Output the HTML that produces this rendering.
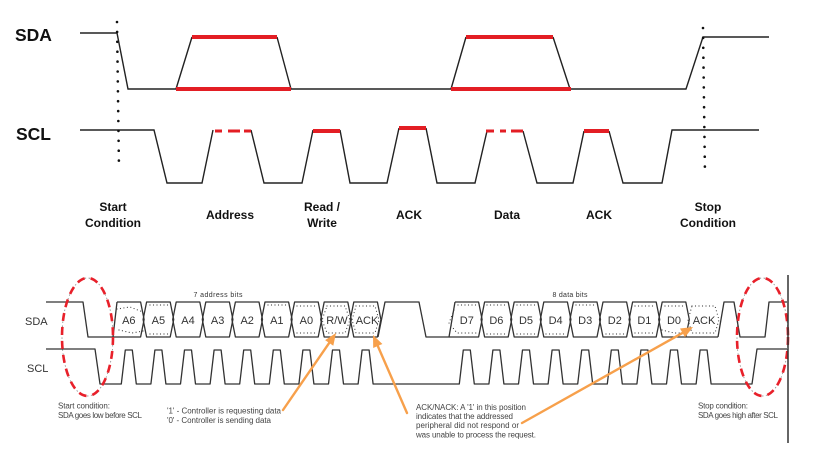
<!DOCTYPE html>
<html><head><meta charset="utf-8"><style>
html,body{margin:0;padding:0;background:#fff;}
svg{display:block;}
</style></head><body>
<svg width="822" height="459" viewBox="0 0 822 459" xmlns="http://www.w3.org/2000/svg" font-family="Liberation Sans, Arial, sans-serif">
<rect width="822" height="459" fill="#fff"/>

<!-- ===== TOP DIAGRAM ===== -->
<text x="15" y="41" font-size="17.5" font-weight="bold" fill="#111">SDA</text>
<text x="16" y="140" font-size="17.5" font-weight="bold" fill="#111">SCL</text>

<g fill="none" stroke="#222" stroke-width="1.4">
<path d="M80,33 H117 L128,89 H686 L703,37 H769"/>
<path d="M176,89 L192,37 M277,37 L291,89 M451,89 L466,37 M553,37 L570,89"/>
<path d="M80,130 H154 L167,183 H202 L213,130 M251,130 L264,183 H302 L313,130 M340,130 L350,183 H387 L399,128 M426,128 L437,183 H475 L487,131 M523,131 L537,183 H573 L584,131 M609,131 L623,183 H662 L672,130 H759"/>
</g>
<g stroke="#e31e24" fill="none">
<path d="M192,37 H277 M176,89 H291 M466,37 H553 M451,89 H571" stroke-width="4"/>
<path d="M215,131 H222 M228,131 H240 M244,131 H251 M486,131 H494 M500,131 H506 M511,131 H523" stroke-width="3"/>
<path d="M313,131 H340 M399,128 H426 M584,131 H609" stroke-width="4"/>
</g>
<g stroke="#111" stroke-width="2.6" stroke-linecap="round" stroke-dasharray="0 9.9" fill="none">
<path d="M117,22 L119,170"/>
<path d="M703,28 L705,176"/>
</g>
<g font-size="12" font-weight="bold" fill="#111" text-anchor="middle">
<text x="113" y="211">Start</text>
<text x="113" y="227">Condition</text>
<text x="230" y="219">Address</text>
<text x="322" y="211">Read /</text>
<text x="322" y="227">Write</text>
<text x="409" y="219">ACK</text>
<text x="507" y="219">Data</text>
<text x="599" y="219">ACK</text>
<text x="708" y="211">Stop</text>
<text x="708" y="227">Condition</text>
</g>

<!-- ===== BOTTOM DIAGRAM ===== -->
<text x="25" y="325" font-size="11" fill="#333">SDA</text>
<text x="27" y="372" font-size="11" fill="#333">SCL</text>
<text x="218" y="297" font-size="7" fill="#333" text-anchor="middle" textLength="49">7 address bits</text>
<text x="570" y="297" font-size="7" fill="#333" text-anchor="middle" textLength="35">8 data bits</text>

<!-- gray dotted ellipses underneath -->
<g fill="none" stroke="#888" stroke-width="0.8" stroke-dasharray="1.5 2.5">
<ellipse cx="87.5" cy="337" rx="25.5" ry="59"/>
<ellipse cx="762.5" cy="337" rx="25.5" ry="59"/>
</g>

<g fill="none" stroke="#333" stroke-width="1.3" stroke-linejoin="round">
<path d="M46,302 H83 L88,337 H113 L117,302"/>
<path d="M117,302 H140.6 L144.1,319.5 L140.6,337 H113"/>
<path d="M146.6,302 H170.2 L173.7,319.5 L170.2,337 H146.6 L143.1,319.5 Z"/>
<path d="M176.2,302 H199.8 L203.3,319.5 L199.8,337 H176.2 L172.7,319.5 Z"/>
<path d="M205.8,302 H229.4 L232.9,319.5 L229.4,337 H205.8 L202.3,319.5 Z"/>
<path d="M235.4,302 H259 L262.5,319.5 L259,337 H235.4 L231.9,319.5 Z"/>
<path d="M265,302 H288.6 L292.1,319.5 L288.6,337 H265 L261.5,319.5 Z"/>
<path d="M294.6,302 H318.2 L321.7,319.5 L318.2,337 H294.6 L291.1,319.5 Z"/>
<path d="M324.2,302 H347.8 L351.3,319.5 L347.8,337 H324.2 L320.7,319.5 Z"/>
<path d="M353.8,302 H377.4 L380.9,319.5 L377.4,337 H353.8 L350.3,319.5 Z"/>
<path d="M378,337 L385,302 H419 L426,337 H449 L455,302"/>
<path d="M455,302 H478.6 L482.1,319.5 L478.6,337 H449"/>
<path d="M484.6,302 H508.2 L511.7,319.5 L508.2,337 H484.6 L481.1,319.5 Z"/>
<path d="M514.2,302 H537.8 L541.3,319.5 L537.8,337 H514.2 L510.7,319.5 Z"/>
<path d="M543.8,302 H567.4 L570.9,319.5 L567.4,337 H543.8 L540.3,319.5 Z"/>
<path d="M573.4,302 H597 L600.5,319.5 L597,337 H573.4 L569.9,319.5 Z"/>
<path d="M603,302 H626.6 L630.1,319.5 L626.6,337 H603 L599.5,319.5 Z"/>
<path d="M632.6,302 H656.2 L659.7,319.5 L656.2,337 H632.6 L629.1,319.5 Z"/>
<path d="M662.2,302 H685.8 L689.3,319.5 L685.8,337 H662.2 L658.7,319.5 Z"/>
<path d="M685.8,337 H718"/>
<path d="M718,337 L724,302 H734 L740,337 H765 L769,302 H787"/>
<path d="M46,349 H95 L100,384 H121.3 L125.3,350 H132.3 L136.3,384 H150.9 L154.9,350 H161.9 L165.9,384 H180.5 L184.5,350 H191.5 L195.5,384 H210.1 L214.1,350 H221.1 L225.1,384 H239.7 L243.7,350 H250.7 L254.7,384 H269.3 L273.3,350 H280.3 L284.3,384 H298.9 L302.9,350 H309.9 L313.9,384 H328.5 L332.5,350 H339.5 L343.5,384 H358.1 L362.1,350 H369.1 L373.1,384 H459.3 L463.3,350 H470.3 L474.3,384 H488.9 L492.9,350 H499.9 L503.9,384 H518.5 L522.5,350 H529.5 L533.5,384 H548.1 L552.1,350 H559.1 L563.1,384 H577.7 L581.7,350 H588.7 L592.7,384 H607.3 L611.3,350 H618.3 L622.3,384 H636.9 L640.9,350 H647.9 L651.9,384 H666.5 L670.5,350 H677.5 L681.5,384 H696.1 L700.1,350 H707.1 L711.1,384 H752 L757,349 H787"/>
</g>
<g fill="none" stroke="#444" stroke-width="1.2" stroke-linecap="round" stroke-dasharray="0 3.5">
<path d="M117,309 L130,307 L143,312 M119,330 L132,333 L143,331"/>
<path d="M150,305 H168 M150,334 H168"/>
<path d="M268,305 H288"/>
<path d="M297,306 H316 M297,333 H316"/>
<path d="M327,306 H345 L350,320 L345,333 H327 L322,320 Z"/>
<path d="M356,306 H375 L379,320 L375,333 H356 L352,320 Z"/>
<path d="M454,310 L449,323 L457,333 H476 M458,305 H476"/>
<path d="M487,305 H506 M487,334 H506"/>
<path d="M517,305 H535 M517,334 H535"/>
<path d="M546,334 H565"/>
<path d="M576,305 H595"/>
<path d="M606,334 H624"/>
<path d="M635,306 H654 M635,333 H654"/>
<path d="M665,306 H683 M662,330 L674,333 H688"/>
<path d="M692,306 H715 L719,320 L715,333 H692 L688,320 Z"/>
</g>
<g font-size="11" fill="#333" text-anchor="middle">
<text x="128.8" y="324">A6</text>
<text x="158.4" y="324">A5</text>
<text x="188" y="324">A4</text>
<text x="217.6" y="324">A3</text>
<text x="247.2" y="324">A2</text>
<text x="276.8" y="324">A1</text>
<text x="306.4" y="324">A0</text>
<text x="337" y="324">R/W</text>
<text x="367" y="324">ACK</text>
<text x="466.8" y="324">D7</text>
<text x="496.4" y="324">D6</text>
<text x="526" y="324">D5</text>
<text x="555.6" y="324">D4</text>
<text x="585.2" y="324">D3</text>
<text x="614.8" y="324">D2</text>
<text x="644.4" y="324">D1</text>
<text x="674" y="324">D0</text>
<text x="704" y="324">ACK</text>
</g>

<g fill="none" stroke="#e8202a" stroke-width="2.6" stroke-dasharray="8 6">
<ellipse cx="87.5" cy="337" rx="25.5" ry="59"/>
<ellipse cx="762.5" cy="337" rx="25.5" ry="59"/>
</g>

<line x1="788" y1="275" x2="788" y2="443" stroke="#333" stroke-width="1.5"/>

<g stroke="#f7a04b" stroke-width="2.4" fill="none" stroke-linecap="round">
<path d="M283,410 L329.2,342.9"/>
<path d="M407,413 L377.8,346"/>
<path d="M522,423 L682.5,332.9"/>
</g>
<g fill="#f7a04b">
<polygon points="336,333 333.3,345.7 325.1,340.1"/>
<polygon points="373,335 382.4,344 373.2,348"/>
<polygon points="693,327 685,337.3 680,328.5"/>
</g>

<g font-size="8" fill="#444">
<text x="58" y="408.5" textLength="52">Start condition:</text>
<text x="58" y="418" textLength="84">SDA goes low before SCL</text>
<text x="167" y="413.5" textLength="114">'1' - Controller is requesting data</text>
<text x="167" y="423" textLength="104">'0' - Controller is sending data</text>
<text x="416" y="410" textLength="110">ACK/NACK: A '1' in this position</text>
<text x="416" y="419" textLength="97">indicates that the addressed</text>
<text x="416" y="428" textLength="103">peripheral did not respond or</text>
<text x="416" y="437.5" textLength="120">was unable to process the request.</text>
<text x="698" y="408.5" textLength="50">Stop condition:</text>
<text x="698" y="418" textLength="80">SDA goes high after SCL</text>
</g>
</svg>
</body></html>
